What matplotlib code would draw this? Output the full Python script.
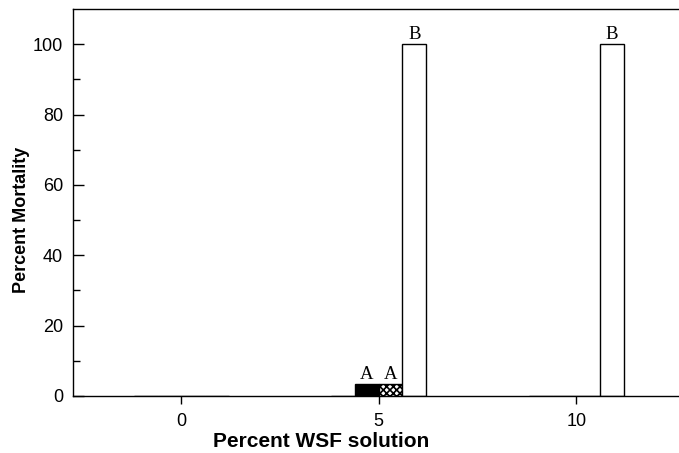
import matplotlib
matplotlib.use("Agg")
import matplotlib.pyplot as plt
import numpy as np

categories = [0, 5, 10]
series_1 = [0, 0, 0]          # first series (all zero)
series_black = [0, 3.3, 0]
series_hatched = [0, 3.3, 0]
series_white = [0, 100, 100]
letters_black = ["", "A", ""]
letters_hatched = ["", "A", ""]
letters_white = ["", "B", "B"]

plt.rcParams['hatch.linewidth'] = 1.2
fig = plt.figure(figsize=(6.79, 4.53), dpi=100)
ax = fig.add_axes([0.107, 0.126, 0.893, 0.854])

x = np.array(categories, dtype=float)
w = 0.6
offs = [-0.9, -0.3, 0.3, 0.9]
ax.bar(x + offs[0], series_1, w, color='white', edgecolor='black', linewidth=1)
ax.bar(x + offs[1], series_black, w, color='black', edgecolor='black', linewidth=1)
ax.bar(x + offs[2], series_hatched, w, color='white', edgecolor='black', linewidth=1, hatch='xxxxx')
ax.bar(x + offs[3], series_white, w, color='white', edgecolor='black', linewidth=1)

serif = ['Liberation Serif', 'DejaVu Serif']
for vals, labs, off in [(series_black, letters_black, offs[1]),
                        (series_hatched, letters_hatched, offs[2]),
                        (series_white, letters_white, offs[3])]:
    for xi, v, lab in zip(x, vals, labs):
        if lab:
            ax.text(xi + off, v + 0.4, lab, ha='center', va='bottom',
                    fontsize=13.5, family=serif)

ax.set_xlim(-2.75, 12.6)
ax.set_ylim(0, 110)
ax.set_xticks(categories)
ax.set_xticklabels([str(c) for c in categories])
ax.set_yticks([0, 20, 40, 60, 80, 100])
ax.set_yticks([10, 30, 50, 70, 90], minor=True)
ax.tick_params(axis='y', which='major', direction='in', length=8, width=1, labelsize=13, pad=7)
ax.tick_params(axis='y', which='minor', direction='in', length=5, width=1)
ax.tick_params(axis='x', which='major', direction='out', length=6, width=1, labelsize=13, pad=6)
for lab in ax.get_xticklabels() + ax.get_yticklabels():
    lab.set_family(['Liberation Sans', 'DejaVu Sans'])

ax.spines['right'].set_visible(False)
for s in ['left', 'bottom', 'top']:
    ax.spines[s].set_linewidth(1)

ax.set_xlabel('Percent WSF solution', fontsize=15, fontweight='bold',
              family=['Liberation Sans', 'DejaVu Sans'])
ax.set_ylabel('Percent Mortality', fontsize=13, fontweight='bold',
              family=['Liberation Sans', 'DejaVu Sans'])
ax.xaxis.set_label_coords(0.41, -0.092)
ax.yaxis.set_label_coords(-0.0705, 0.455)

fig.savefig('out.png', dpi=100)
